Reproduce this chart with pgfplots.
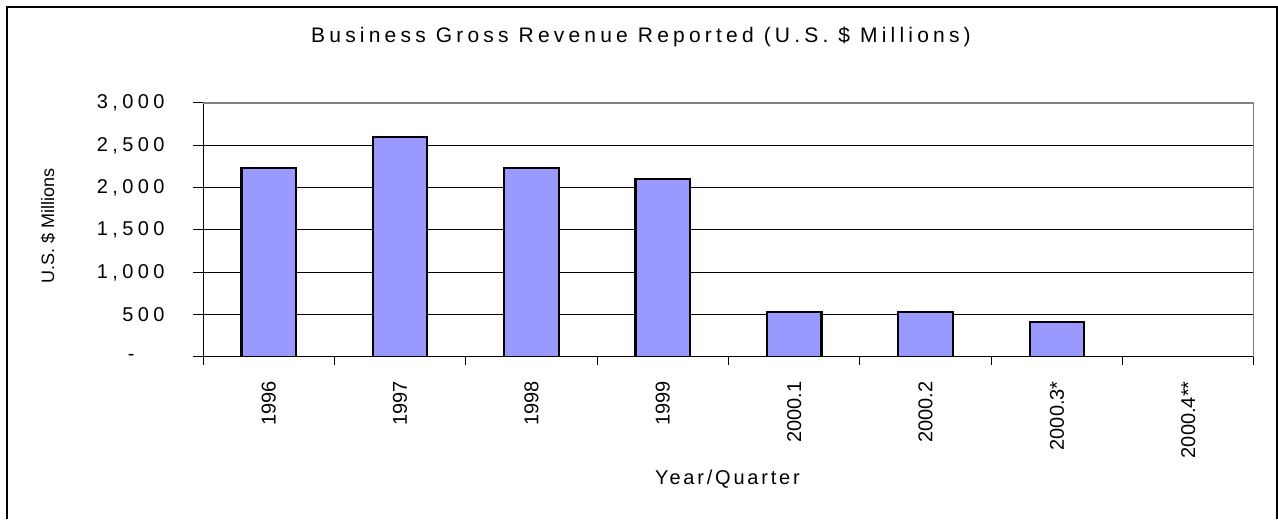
\documentclass[border=0pt]{standalone}
\usepackage{fontspec}
\setmainfont{Liberation Sans}
\newfontfamily\spacedy[LetterSpace=22]{Liberation Sans}
\newfontfamily\spacedt[LetterSpace=20]{Liberation Sans}
\newfontfamily\spacedx[LetterSpace=14]{Liberation Sans}
\usepackage{pgfplots}
\pgfplotsset{compat=1.18}
\definecolor{barblue}{RGB}{153,153,255}
\definecolor{framegray}{RGB}{128,128,128}

\begin{document}
\begin{tikzpicture}
\useasboundingbox (0,0) rectangle (639pt,259.5pt);
% outer chart frame (bottom edge runs off the picture)
\draw[black, line width=0.6pt] (3.5pt,0) -- (3.5pt,256pt) -- (638.5pt,256pt) -- (638.5pt,0);

\begin{axis}[
    at={(101.5pt,81pt)}, anchor=south west,
    scale only axis,
    width=525.5pt, height=127pt,
    xmin=-0.5, xmax=7.5,
    ymin=0, ymax=3000,
    axis x line*=bottom, axis y line*=left,
    axis line style={-, black, line width=0.5pt},
    xtick={0,...,7},
    xticklabels={1996,1997,1998,1999,2000.1,2000.2,2000.3*,2000.4**},
    major x tick style={draw=none},
    minor xtick={-0.5,0.5,...,7.5},
    minor tick length=4pt,
    minor x tick style={black, line width=0.5pt},
    xticklabel style={rotate=90, anchor=east, font=\fontsize{10}{12}\selectfont, inner sep=0pt},
    xticklabel shift=7pt,
    ytick={0,500,...,3000},
    yticklabels={{-\rule{15pt}{0pt}},500,{1,000},{1,500},{2,000},{2,500},{3,000}},
    yticklabel style={font=\fontsize{10}{12}\spacedy\selectfont, anchor=east, inner sep=0pt},
    yticklabel shift=14pt,
    tick align=outside,
    major tick length=5pt,
    major y tick style={black, line width=0.5pt},
    ymajorgrids,
    grid style={black, line width=0.5pt},
]
\addplot[ybar, bar width=0.415, fill=barblue, draw=black, line width=1.1pt]
    coordinates {(0,2232) (1,2600) (2,2230) (3,2102) (4,535) (5,535) (6,413)};
\draw[framegray, line width=1pt] (rel axis cs:0,1) -- (rel axis cs:1,1) -- (rel axis cs:1,0);
\end{axis}

\node at (320.5pt,241pt) {\fontsize{10.5}{12}\spacedt\selectfont Business Gross Revenue Reported (U.S. \$ Millions)};
\node at (363.75pt,20pt) {\fontsize{10}{12}\spacedx\selectfont Year/Quarter};
\node[rotate=90] at (24pt,146.5pt) {\fontsize{9}{11}\selectfont U.S. \$ Millions};
\end{tikzpicture}
\end{document}
